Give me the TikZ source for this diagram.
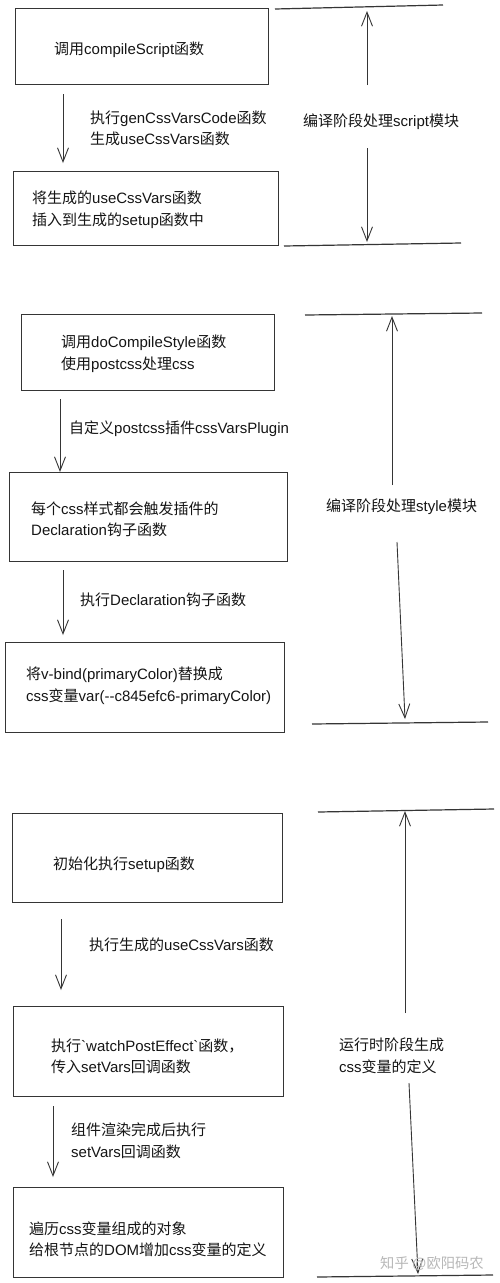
\documentclass[tikz,border=0pt]{standalone}
\usepackage{fontspec}
\setmainfont{Liberation Sans}[Ligatures=TeXOff]
\newfontfamily\cjkfont{Noto Sans CJK SC}[Ligatures=TeXOff]
\newfontfamily\latfont{Liberation Sans}[Ligatures=TeXOff]
\newXeTeXintercharclass\CJKcls
\newcount\cjkc
\cjkc="2E80
\loop \XeTeXcharclass\cjkc=\CJKcls \advance\cjkc 1 \ifnum\cjkc<"A000 \repeat
\cjkc="FF00
\loop \XeTeXcharclass\cjkc=\CJKcls \advance\cjkc 1 \ifnum\cjkc<"FFF0 \repeat
\XeTeXinterchartoks 0 \CJKcls = {\cjkfont}
\XeTeXinterchartoks 4095 \CJKcls = {\cjkfont}
\XeTeXinterchartoks \CJKcls 0 = {\latfont}
\XeTeXinterchartoks 4095 0 = {\latfont}
\XeTeXinterchartokenstate=1
\usetikzlibrary{arrows.meta,calc}
\definecolor{ink}{HTML}{353535}
\definecolor{txt}{HTML}{151515}
\begin{document}
\begin{tikzpicture}[x=1pt,y=-1pt,
  box/.style={draw=ink, line width=1.2pt, inner sep=0pt, anchor=north west},
  lbl/.style={text=txt, anchor=west, align=left, inner sep=0pt, font=\fontsize{15}{21.5}\selectfont},
  arr/.style={draw=ink, line width=0.9pt, -{Straight Barb[length=14pt,width=11pt,line width=0.9pt]}},
  rule/.style={draw=ink, line width=1.2pt},
  wm/.style={text=black!28, anchor=west, inner sep=0pt, font=\fontsize{14.3}{15}\selectfont}]
\useasboundingbox (0,0) rectangle (500,1283);
\fill[white] (0,0) rectangle (500,1283);

% ---------- section 1 ----------
\node[box, minimum width=253pt, minimum height=76pt] (b1) at (15,8) {};
\node[lbl] (t1) at (54,50) {调用compileScript函数};
\node[box, minimum width=265pt, minimum height=74pt] (b2) at (13,171) {};
\node[lbl] (t2) at (32,209.5) {将生成的useCssVars函数\\插入到生成的setup函数中};
\draw[arr] ($(b1.south west)+(48,9)$) -- ($(b2.north west)+(50,-8)$);
\node[lbl] (l1) at (90,128.5) {执行genCssVarsCode函数\\生成useCssVars函数};

\coordinate (s1tl) at (275,9);  \coordinate (s1tr) at (443,5);
\coordinate (s1bl) at (284,246); \coordinate (s1br) at (461,243);
\draw[rule] (s1tl) -- (s1tr);
\draw[rule] (s1bl) -- (s1br);
\node[lbl] (r1) at (303,122) {编译阶段处理script模块};
\coordinate (u1a) at (367,85);  \coordinate (u1b) at (367,11);
\coordinate (d1a) at (367,148); \coordinate (d1b) at (367,242);
\draw[arr] (u1a) -- (u1b);
\draw[arr] (d1a) -- (d1b);

% ---------- section 2 ----------
\node[box, minimum width=253pt, minimum height=76pt] (b3) at (21,314) {};
\node[lbl] (t3) at (61,353.5) {调用doCompileStyle函数\\使用postcss处理css};
\node[box, minimum width=278pt, minimum height=89pt] (b4) at (9,472) {};
\node[lbl] (t4) at (31,519.5) {每个css样式都会触发插件的\\Declaration钩子函数};
\node[box, minimum width=279pt, minimum height=90pt] (b5) at (5,642) {};
\node[lbl] (t5) at (26,685.5) {将v-bind(primaryColor)替换成\\css变量var(--c845efc6-primaryColor)};
\draw[arr] ($(b3.south west)+(39,8)$) -- ($(b4.north west)+(51,0)$);
\node[lbl] (l2) at (69,429) {自定义postcss插件cssVarsPlugin};
\draw[arr] ($(b4.south west)+(54,8)$) -- ($(b5.north west)+(58,-7)$);
\node[lbl] (l3) at (80,600) {执行Declaration钩子函数};

\coordinate (s2tl) at (305,315); \coordinate (s2tr) at (482,313);
\coordinate (s2bl) at (312,724); \coordinate (s2br) at (488,722);
\draw[rule] (s2tl) -- (s2tr);
\draw[rule] (s2bl) -- (s2br);
\node[lbl] (r2) at (326,507) {编译阶段处理style模块};
\coordinate (u2a) at (392,485); \coordinate (u2b) at (392,316);
\coordinate (d2a) at (397,542); \coordinate (d2b) at (405,719);
\draw[arr] (u2a) -- (u2b);
\draw[arr] (d2a) -- (d2b);

% ---------- section 3 ----------
\node[box, minimum width=270pt, minimum height=89pt] (b6) at (12,813) {};
\node[lbl] (t6) at (53,865) {初始化执行setup函数};
\node[box, minimum width=270pt, minimum height=90pt] (b7) at (13,1006) {};
\node[lbl] (t7) at (51,1056.5) {执行`watchPostEffect`函数，\\传入setVars回调函数};
\node[box, minimum width=270pt, minimum height=90pt] (b8) at (13,1187) {};
\node[lbl] (t8) at (29,1239) {遍历css变量组成的对象\\给根节点的DOM增加css变量的定义};
\draw[arr] ($(b6.south west)+(49,16)$) -- ($(b7.north west)+(48,-16)$);
\node[lbl] (l4) at (89,945) {执行生成的useCssVars函数};
\draw[arr] ($(b7.south west)+(40,9)$) -- ($(b8.north west)+(40,-10)$);
\node[lbl] (l5) at (71,1140.5) {组件渲染完成后执行\\setVars回调函数};

\coordinate (s3tl) at (318,812); \coordinate (s3tr) at (494,809);
\coordinate (s3bl) at (317,1277); \coordinate (s3br) at (493,1275);
\draw[rule] (s3tl) -- (s3tr);
\draw[rule] (s3bl) -- (s3br);
\node[lbl] (r3) at (339,1056) {运行时阶段生成\\css变量的定义};
\coordinate (u3a) at (405,1013); \coordinate (u3b) at (405,811);
\coordinate (d3a) at (409,1083); \coordinate (d3b) at (418,1274);
\draw[arr] (u3a) -- (u3b);
\draw[arr] (d3a) -- (d3b);
\node[wm] (w) at (380,1263) {知乎 @欧阳码农};
\end{tikzpicture}
\end{document}
